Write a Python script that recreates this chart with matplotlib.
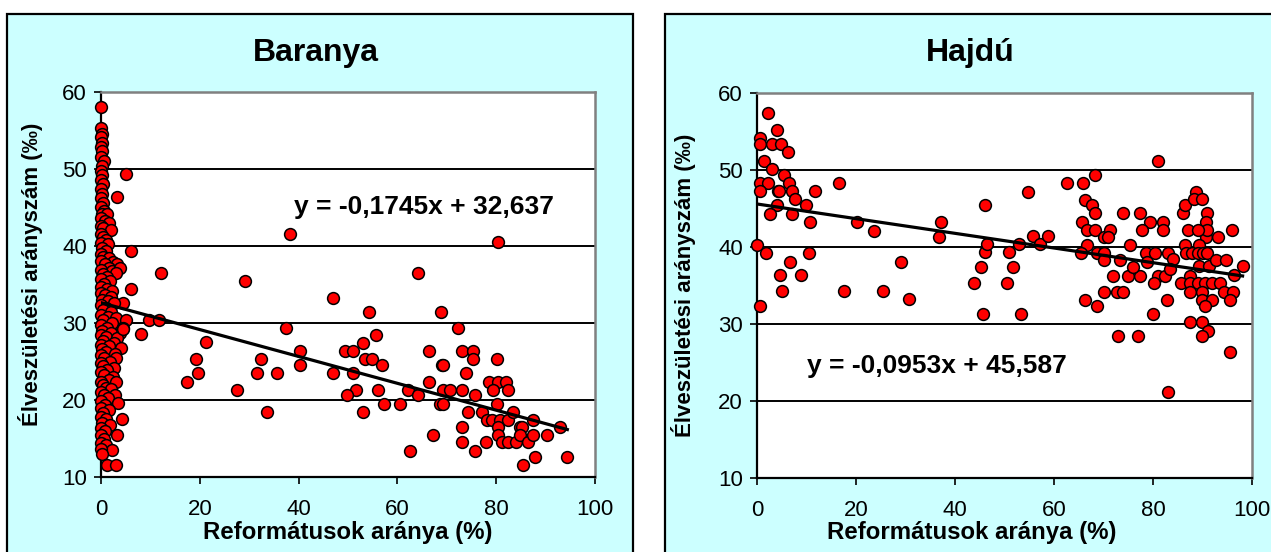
import matplotlib
matplotlib.use("Agg")
import matplotlib.pyplot as plt
from matplotlib.patches import Rectangle
import numpy as np

plt.rcParams['font.family'] = ['Liberation Sans', 'DejaVu Sans']

W, H = 1271, 552

# ---------------- DATA ----------------
titles = ["Baranya", "Hajdú"]
xlabel = "Reformátusok aránya (%)"
ylabel = "Élveszületési arányszám (‰)"
xticks = [0, 20, 40, 60, 80, 100]
yticks = [10, 20, 30, 40, 50, 60]

# Baranya: municipalities with almost no Calvinists (dense column near x=0)
baranya_col_x = [0, 0, 0.2, 0, 0.3, 0, 0.2, 0, 0.6, 0.2, 0, 0.3, 0, 0.4, 0, 0.2, 0, 0.5, 0, 0.6,
                 0.2, 1.2, 0, 0.8, 1.6, 0, 0.5, 2.0, 0, 0.4, 1.0, 0, 1.4, 0.3, 1.0, 0, 0.5, 1.7, 0, 2.5,
                 0.8, 3.2, 1.6, 0, 2.2, 3.8, 0.5, 3.0, 1.2, 0, 1.8, 0.6, 0, 1.3, 2.3, 0, 0.8, 2.0, 0.3, 1.4,
                 4.5, 2.6, 0, 1.0, 0.5, 2.0, 0, 1.5, 3.0, 0.4, 5.0, 2.2, 0, 4.4, 1.2, 0.3, 3.8, 2.0, 0, 1.0,
                 3.2, 0.5, 2.6, 0, 1.6, 4.0, 0.3, 1.0, 2.8, 0, 0.6, 3.0, 1.8, 0, 0.4, 2.6, 1.2, 0, 0.7, 2.5,
                 1.6, 0, 3.0, 0.5, 1.0, 2.0, 0, 0.6, 2.8, 1.4, 0, 3.5, 0.8, 0, 1.6, 0.4, 0, 1.0, 4.2, 0.3,
                 1.8, 0, 0.8, 3.3, 0, 0.6, 0, 1.0, 2.3, 0, 0.2, 1.2, 3.0,
                 3.3, 5.1, 6.0, 12.1, 6.0, 9.7, 11.7, 8.0, 4.5]
baranya_col_y = [58.1, 55.3, 54.6, 54.2, 53.4, 52.9, 52.3, 51.6, 51.1, 50.4, 49.8, 49.2, 48.6, 48.0, 47.4, 46.8, 46.2, 45.6, 45.1, 44.6,
                 44.2, 44.1, 43.6, 43.2, 43.0, 42.6, 42.3, 42.1, 41.6, 41.2, 40.8, 40.4, 40.2, 39.8, 39.4, 39.0, 38.6, 38.4, 38.1, 37.9,
                 37.7, 37.6, 37.2, 36.9, 36.8, 37.2, 36.4, 36.5, 36.0, 35.7, 35.5, 35.1, 34.7, 34.4, 34.1, 33.9, 33.6, 33.4, 33.0, 32.8,
                 32.6, 32.6, 32.3, 32.0, 31.7, 31.4, 31.1, 30.8, 30.6, 30.4, 30.4, 30.0, 29.8, 29.3, 29.3, 28.9, 28.7, 28.7, 28.4, 28.2,
                 28.0, 27.7, 27.4, 27.2, 27.0, 26.8, 26.6, 26.2, 26.0, 25.9, 25.5, 25.5, 25.0, 24.8, 24.4, 24.2, 23.9, 23.6, 23.2, 23.0,
                 22.6, 22.4, 22.4, 22.0, 21.6, 21.4, 21.1, 20.7, 20.6, 20.3, 19.9, 19.6, 19.4, 19.0, 18.7, 18.3, 17.8, 17.5, 17.5, 17.0,
                 16.8, 16.4, 16.0, 15.5, 15.4, 15.0, 14.4, 14.1, 13.5, 13.6, 13.0, 11.6, 11.6,
                 46.3, 49.4, 39.4, 36.5, 34.4, 30.4, 30.4, 28.6, 29.2]

# Baranya: the rest of the municipalities
baranya_x = [38.3, 80.4, 29.1, 64.2, 46.9, 54.3, 68.8, 37.4, 72.2, 21.3, 19.2, 32.4, 19.6, 17.5, 31.6, 35.7, 40.3, 40.3,
             27.5, 33.7, 46.9, 49.4, 51.1, 53.1, 55.6, 53.4, 54.8, 56.8, 51.0, 51.6, 49.7, 56.0, 53.1, 57.3, 60.5, 62.2,
             64.2, 66.4, 66.3, 62.6, 67.3, 69.0, 69.2, 69.3, 70.6, 68.6, 69.3, 73.0, 75.4, 75.4, 73.8, 73.0, 75.8, 74.2,
             73.0, 73.0, 75.8, 77.9, 77.1, 78.1, 80.1, 78.6, 80.3, 82.0, 79.4, 82.4, 80.1, 79.2, 80.7, 82.3, 80.4, 80.4,
             81.1, 82.4, 83.3, 84.1, 84.9, 85.3, 84.9, 86.5, 87.5, 87.5, 85.4, 87.9, 90.2, 92.9, 94.4]
baranya_y = [41.6, 40.5, 35.5, 36.5, 33.3, 31.4, 31.4, 29.4, 29.4, 27.5, 25.3, 25.3, 23.5, 22.4, 23.5, 23.5, 26.4, 24.6,
             21.3, 18.4, 23.5, 26.4, 26.4, 27.4, 28.5, 25.3, 25.3, 24.6, 23.5, 21.3, 20.6, 21.3, 18.4, 19.5, 19.5, 21.3,
             20.6, 26.4, 22.4, 13.4, 15.5, 24.6, 24.6, 21.3, 21.3, 19.5, 19.5, 26.4, 26.4, 25.3, 23.5, 21.3, 20.6, 18.4,
             16.5, 14.5, 13.4, 14.5, 18.4, 17.4, 25.3, 22.4, 22.4, 22.4, 21.3, 21.3, 19.5, 17.4, 17.4, 17.4, 16.5, 15.5,
             14.5, 14.5, 18.4, 14.5, 16.5, 16.5, 15.5, 14.5, 17.4, 15.5, 11.6, 12.6, 15.5, 16.5, 12.6]

hajdu_x = [2.3, 4.0, 0.6, 0.6, 3.0, 4.8, 6.3, 1.4, 3.1, 5.5, 0.6, 2.3, 6.4, 0.6, 4.2, 4.5, 7.1, 11.7, 16.6, 7.7,
           4.0, 9.8, 2.6, 7.1, 10.8, 20.3, 23.7, 37.2, 36.8, 0.0, 1.8, 10.5, 6.7, 29.1, 4.6, 8.8, 5.1, 17.6, 25.4, 30.8,
           0.6,
           43.8, 45.2, 46.1, 46.4, 45.6, 46.1, 50.6, 51.0, 51.8, 53.3, 52.9, 54.7, 55.8, 57.2, 58.7,
           81.1, 68.3, 62.6, 65.8, 66.3, 67.6, 68.3, 65.6, 66.6, 68.3, 70.0, 71.4, 71.0, 74.0, 77.4, 79.4, 82.0, 82.0,
           77.8, 75.4, 66.6, 65.5, 68.6, 70.2, 70.0, 73.4, 72.0, 75.0, 77.4, 76.0, 78.6, 80.4, 78.7, 70.0, 72.8, 73.9,
           66.3, 68.6, 72.9, 77.0, 79.9, 82.8, 81.1, 82.4, 83.1, 84.1, 83.4, 80.2, 83.1, 86.1, 86.5, 88.6, 88.3, 89.8,
           91.0, 90.7, 90.7, 91.0, 87.1, 89.0, 86.5, 89.2, 93.1, 95.9, 86.7, 87.8, 89.0, 90.0, 91.0, 89.2, 91.4, 92.7,
           94.7, 98.1, 96.4, 87.4, 85.6, 87.4, 89.0, 90.6, 92.0, 93.6, 87.4, 89.9, 94.4, 96.2, 89.9, 91.9, 95.6, 90.6,
           87.4, 89.9, 91.1, 89.9, 95.6]
hajdu_y = [57.4, 55.2, 54.2, 53.4, 53.4, 53.4, 52.3, 51.2, 50.1, 49.4, 48.3, 48.3, 48.3, 47.3, 47.3, 47.3, 47.3, 47.3, 48.3, 46.2,
           45.4, 45.4, 44.3, 44.3, 43.2, 43.2, 42.1, 43.2, 41.3, 40.3, 39.2, 39.2, 38.1, 38.1, 36.4, 36.4, 34.3, 34.3, 34.3, 33.2,
           32.4,
           35.3, 37.4, 39.3, 40.4, 31.3, 45.5, 35.3, 39.3, 37.4, 31.3, 40.4, 47.2, 41.4, 40.4, 41.4,
           51.2, 49.4, 48.3, 48.3, 46.1, 45.5, 44.4, 43.3, 42.2, 42.2, 41.3, 42.2, 41.3, 44.4, 44.4, 43.3, 43.3, 42.2,
           42.2, 40.3, 40.3, 39.2, 39.2, 39.2, 38.3, 38.3, 36.2, 36.2, 36.2, 37.4, 39.2, 39.2, 38.1, 34.2, 34.2, 34.2,
           33.1, 32.4, 28.4, 28.4, 31.3, 33.1, 36.2, 36.2, 39.2, 38.4, 37.2, 35.3, 21.2, 44.4, 45.5, 47.2, 46.2, 46.2,
           44.4, 43.3, 41.3, 42.2, 42.2, 42.2, 40.3, 40.3, 41.3, 42.2, 39.2, 39.2, 39.2, 39.2, 39.2, 37.5, 37.5, 38.3,
           38.3, 37.5, 36.4, 36.2, 35.3, 35.3, 35.3, 35.3, 35.3, 35.3, 34.2, 34.2, 34.2, 34.2, 33.1, 33.1, 33.1, 32.4,
           30.2, 30.2, 29.1, 28.4, 26.3]

# linear trend coefficients (slope, intercept) and their labels
trend_coef = [(-0.1745, 32.637), (-0.0953, 45.587)]
trend_labels = ["y = -0,1745x + 32,637", "y = -0,0953x + 45,587"]

# ---------------- FIGURE ----------------
fig = plt.figure(figsize=(W / 100, H / 100), dpi=100)
fig.patch.set_facecolor('white')

def fx(px):
    return px / W

def fy(py):
    return 1 - py / H

cyan = '#CCFFFF'
# panel backgrounds (chart areas)
for (x0, x1) in [(7, 633), (665, 1290)]:
    fig.patches.append(Rectangle((fx(x0), fy(600)), fx(x1 - x0), (600 - 14) / H,
                                 transform=fig.transFigure, facecolor=cyan,
                                 edgecolor='black', linewidth=1.6, zorder=-10))

axes_px = [(101, 595, 92, 477), (757, 1252, 93, 478)]
title_pos = [(316, 53), (970, 53)]
ylab_pos = [(31, 274), (684, 285)]
xlab_pos = [(348, 533), (972, 533)]
eq_pos = [(424, 207), (937, 366)]

datasets = [
    (baranya_col_x + baranya_x, baranya_col_y + baranya_y),
    (hajdu_x, hajdu_y),
]

for i in range(2):
    l, r, t, b = axes_px[i]
    ax = fig.add_axes([fx(l), fy(b), (r - l) / W, (b - t) / H])
    ax.set_zorder(1)
    ax.set_facecolor('white')
    ax.set_xlim(0, 100)
    ax.set_ylim(10, 60)
    ax.set_xticks(xticks)
    ax.set_yticks(yticks)
    ax.tick_params(axis='both', direction='out', length=5, width=1.2, colors='black',
                   labelsize=16)
    ax.tick_params(axis='x', pad=11)
    ax.tick_params(axis='y', pad=5)
    ax.grid(axis='y', color='black', linewidth=1.4, zorder=1)
    ax.set_axisbelow(True)
    for s in ['left', 'bottom']:
        ax.spines[s].set_color('black')
        ax.spines[s].set_linewidth(1.6)
    for s in ['top', 'right']:
        ax.spines[s].set_color('#808080')
        ax.spines[s].set_linewidth(1.8)

    xs, ys = datasets[i]
    ax.scatter(xs, ys, s=72, facecolor='#FF0000', edgecolor='black', linewidths=1.1,
               zorder=3, clip_on=False)
    m, c = trend_coef[i]
    xl = np.array([0, max(xs)])
    ax.plot(xl, m * xl + c, color='black', linewidth=2.3, zorder=4)

    fig.text(fx(title_pos[i][0]), fy(title_pos[i][1]), titles[i], ha='center', va='center',
             fontsize=23, fontweight='bold', zorder=5)
    fig.text(fx(ylab_pos[i][0]), fy(ylab_pos[i][1]), ylabel, ha='center', va='center',
             rotation=90, fontsize=16, fontweight='bold', zorder=5)
    fig.text(fx(xlab_pos[i][0]), fy(xlab_pos[i][1]), xlabel, ha='center', va='center',
             fontsize=17.3, fontweight='bold', zorder=5)
    fig.text(fx(eq_pos[i][0]), fy(eq_pos[i][1]), trend_labels[i], ha='center', va='center',
             fontsize=19, fontweight='bold', zorder=5)

fig.savefig('out.png', dpi=100, facecolor='white')
